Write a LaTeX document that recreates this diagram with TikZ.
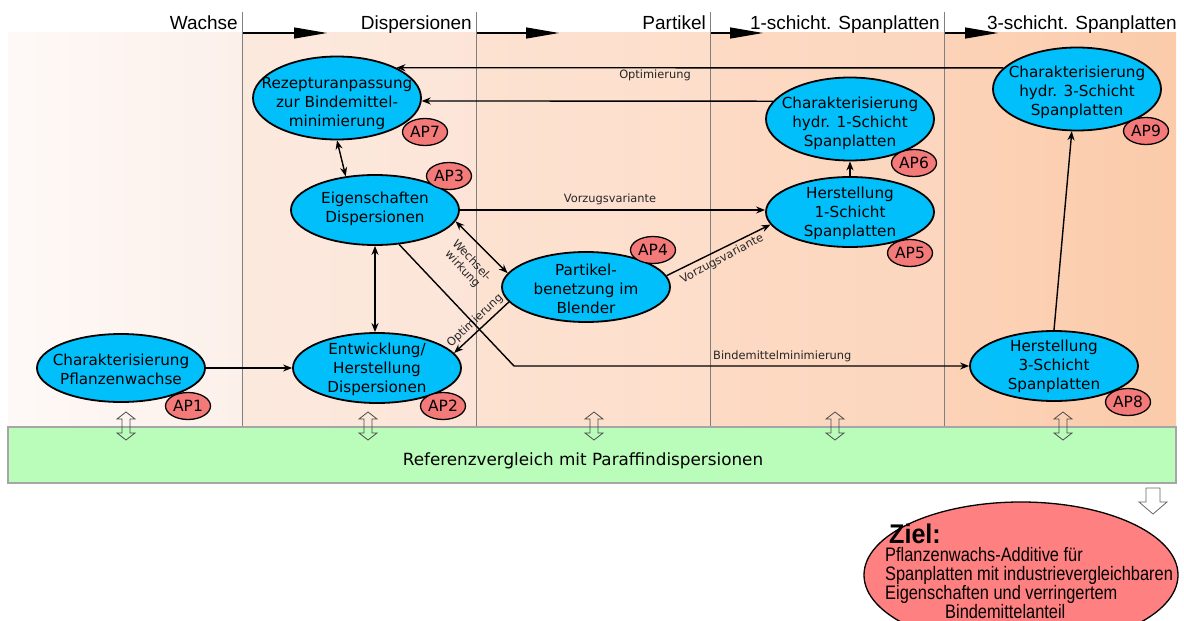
\documentclass[tikz,border=0pt]{standalone}
\usepackage{fontspec}
\setmainfont{DejaVu Sans}
\newfontfamily\arialf{Liberation Sans}
\usetikzlibrary{arrows.meta,shapes.geometric,calc}
\definecolor{nodeblue}{RGB}{0,191,250}
\definecolor{apred}{RGB}{244,122,122}
\definecolor{zielred}{RGB}{255,128,128}
\definecolor{refgreen}{RGB}{186,253,186}
\definecolor{cA}{RGB}{254,249,247}
\definecolor{cB}{RGB}{252,240,234}
\definecolor{cC}{RGB}{252,233,222}
\definecolor{cD}{RGB}{252,229,216}
\definecolor{cE}{RGB}{253,226,209}
\definecolor{cF}{RGB}{253,222,203}
\definecolor{cG}{RGB}{253,218,196}
\definecolor{cH}{RGB}{252,214,190}
\definecolor{cI}{RGB}{252,211,184}
\definecolor{cJ}{RGB}{251,203,170}
\tikzset{
  dbl/.pic={\draw[line width=0.8pt, draw=black!70] (0,-14) -- (9,-7) -- (4,-7) -- (4,7) -- (9,7) -- (0,14) -- (-9,7) -- (-4,7) -- (-4,-7) -- (-9,-7) -- cycle;}
}
\newcommand{\zline}[1]{\scalebox{0.84}[1]{#1}}
\begin{document}
\begin{tikzpicture}[x=1pt,y=-1pt,
  wp/.style={ellipse, draw=black, line width=1.8pt, fill=nodeblue, minimum width=168pt, minimum height=70pt, inner sep=0pt},
  wpt/.style={wp, minimum height=83pt},
  ntext/.style={align=center, inner sep=0pt, font=\fontsize{15.2}{19}\selectfont},
  aplabel/.style={ellipse, draw=black, line width=1.3pt, fill=apred, minimum width=45pt, minimum height=27pt, inner sep=0pt, font=\fontsize{15.5}{18}\selectfont},
  conn/.style={line width=1.4pt, -{Stealth[length=9pt,width=7pt]}},
  dconn/.style={line width=1.4pt, {Stealth[length=9pt,width=7pt]}-{Stealth[length=9pt,width=7pt]}},
  small/.style={inner sep=0pt, font=\fontsize{11.4}{12.5}\selectfont, text=black!85},
  harrow/.style={line width=1.2pt, -{Triangle[length=33pt,width=11pt]}},
  hdr/.style={inner sep=0pt, font=\arialf\fontsize{19}{22}\selectfont},
  divider/.style={draw=black!50, line width=0.8pt},
  ziel/.style={inner sep=0pt, anchor=base west, font=\arialf\fontsize{19.5}{19}\selectfont}
]
\useasboundingbox (0,0) rectangle (1184,621);
\clip (0,0) rectangle (1184,621);
\fill[white] (0,0) rectangle (1184,621);

% background columns
\shade[left color=cA, right color=cB] (8,32) rectangle (242,427);
\shade[left color=cC, right color=cD] (242,32) rectangle (476,427);
\shade[left color=cE, right color=cF] (476,32) rectangle (710,427);
\shade[left color=cG, right color=cH] (710,32) rectangle (944,427);
\shade[left color=cI, right color=cJ] (944,32) rectangle (1176,427);

% dividers
\coordinate (d1) at (242,12);
\coordinate (d2) at (476,12);
\coordinate (d3) at (710,12);
\coordinate (d4) at (944,12);
\foreach \d in {d1,d2,d3,d4} \draw[divider] (\d) -- ++(0,415);

% header arrows
\coordinate (ha1) at (243,33); \coordinate (hb1) at (327,33);
\coordinate (ha2) at (477,33); \coordinate (hb2) at (559,33);
\coordinate (ha3) at (711,33); \coordinate (hb3) at (763,33);
\coordinate (ha4) at (945,33); \coordinate (hb4) at (998,33);
\draw[harrow] (ha1) -- (hb1);
\draw[harrow] (ha2) -- (hb2);
\draw[harrow] (ha3) -- (hb3);
\draw[harrow] (ha4) -- (hb4);

% header texts
\node[hdr, anchor=base east] (h-wachse) at (238,29) {Wachse};
\node[hdr, anchor=base east] (h-disp) at (472,29) {Dispersionen};
\node[hdr, anchor=base east] (h-part) at (706,29) {Partikel};
\node[hdr, anchor=base east] (h-1s) at (940,29) {1-schicht. Spanplatten};
\node[hdr, anchor=base east] (h-3s) at (1177,29) {3-schicht. Spanplatten};

% reference bar
\node[draw=black!35, line width=1.2pt, fill=refgreen, minimum width=1168pt, minimum height=56pt, inner sep=0pt] (ref) at (592,455) {};
\node[inner sep=0pt, font=\fontsize{16.8}{20}\selectfont] (reftext) at (583,461) {Referenzvergleich mit Paraffindispersionen};

% double arrows
\foreach \x in {126,368,594,835,1063} \pic at (\x,426) {dbl};

% down arrow
\draw[line width=0.8pt, draw=black!60, fill=white] (1146,488) -- (1160,488) -- (1160,502) -- (1167,502) -- (1153,514) -- (1139,502) -- (1146,502) -- cycle;

% work package nodes
\node[wpt] (rez) at (337,98) {};
\node[ntext] (rez-t) at (337,104) {Rezepturanpassung\\zur Bindemittel-\\minimierung};
\node[wp] (eig) at (375,210) {};
\node[ntext] (eig-t) at (375,209) {Eigenschaften\\Dispersionen};
\node[wp] (ent) at (377,368) {};
\node[ntext] (ent-t) at (377,369) {Entwicklung/\\Herstellung\\Dispersionen};
\node[wp, minimum height=68pt] (cpw) at (121,368) {};
\node[ntext] (cpw-t) at (121,369) {Charakterisierung\\Pflanzenwachse};
\node[wp] (par) at (586,287) {};
\node[ntext] (par-t) at (586,289) {Partikel-\\benetzung im\\Blender};
\node[wp] (h1) at (850,212) {};
\node[ntext] (h1-t) at (850,213) {Herstellung\\1-Schicht\\Spanplatten};
\node[wpt] (c1) at (850,119) {};
\node[ntext] (c1-t) at (850,123) {Charakterisierung\\hydr. 1-Schicht\\Spanplatten};
\node[wpt] (c3) at (1077,89) {};
\node[ntext] (c3-t) at (1077,92) {Charakterisierung\\hydr. 3-Schicht\\Spanplatten};
\node[wp] (h3) at (1054,366) {};
\node[ntext] (h3-t) at (1054,366) {Herstellung\\3-Schicht\\Spanplatten};

% connectors
\draw[conn] (cpw.east) -- (ent.west);
\draw[dconn] (rez.south) -- (eig.131);
\draw[dconn] (eig.south) -- (eig.south |- ent.north);
\draw[conn] (eig.east) -- (eig.east -| h1.west);
\node[small] (l-vz1) at (610,199) {Vorzugsvariante};
\draw[dconn] (eig.-8.5) -- (par.170);
\node[small, rotate=-47, align=center] (l-ww) at (467,265) {Wechsel-\\wirkung};
\draw[conn] (par.191) -- (ent.11);
\node[small, rotate=43] (l-opt1) at (475,321) {Optimierung};
\draw[conn] (par.8) -- (h1.189);
\node[small, rotate=28] (l-vz2) at (722,259) {Vorzugsvariante};
\draw[conn] (h1.north) -- (c1.south);
\draw[conn] (c1.167.5) -- (rez.-2.7);
\draw[conn] (c3.164) -- (rez.27);
\node[small] (l-opt2) at (655,75) {Optimierung};
\draw[conn] (h3.north) -- (c3.263);
\coordinate (bend) at (514,366);
\draw[conn] (eig.-55) -- (bend) -- (bend -| h3.west);
\node[small, anchor=west] (l-bm) at (713,356) {Bindemittelminimierung};

% AP labels
\node[aplabel] (ap1) at (188,406) {AP1};
\node[aplabel] (ap2) at (443,406) {AP2};
\node[aplabel] (ap3) at (449,176) {AP3};
\node[aplabel] (ap7) at (425,132) {AP7};
\node[aplabel] (ap4) at (653,250) {AP4};
\node[aplabel] (ap5) at (910,253) {AP5};
\node[aplabel] (ap6) at (914,163) {AP6};
\node[aplabel] (ap9) at (1146,131) {AP9};
\node[aplabel] (ap8) at (1128,402) {AP8};

% goal
\node[ellipse, draw=black, line width=1.3pt, fill=zielred, minimum width=314pt, minimum height=146pt, inner sep=0pt] (goal) at (1021,575) {};
\node[inner sep=0pt, anchor=base west, font=\arialf\bfseries\fontsize{27}{30}\selectfont] (goal-h) at (889,543) {\scalebox{0.93}[1]{Ziel:}};
\node[ziel] (goal-1) at (885,561) {\zline{Pflanzenwachs-Additive für}};
\node[ziel] (goal-2) at (885,580) {\zline{Spanplatten mit industrievergleichbaren}};
\node[ziel] (goal-3) at (885,599) {\zline{Eigenschaften und verringertem}};
\node[ziel] (goal-4) at (945,618) {\zline{Bindemittelanteil}};
\end{tikzpicture}
\end{document}
